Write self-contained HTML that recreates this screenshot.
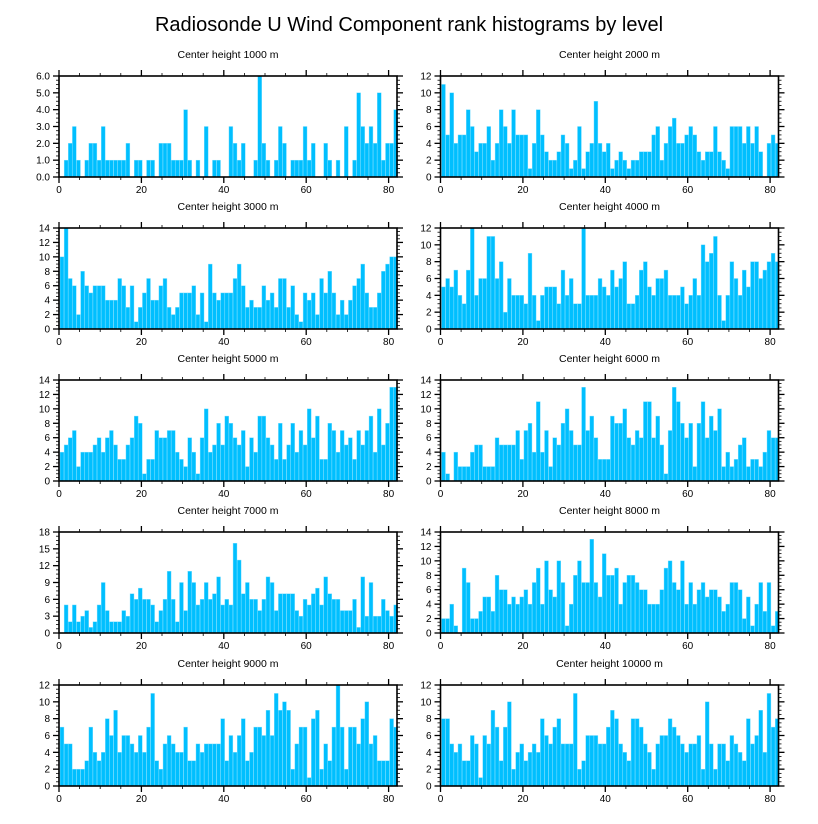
<!DOCTYPE html>
<html><head><meta charset="utf-8"><style>
html,body{margin:0;padding:0;background:#fff;}
svg{display:block;font-family:"Liberation Sans",Arial,sans-serif;}
</style></head><body>
<svg id="chart" width="818" height="824" viewBox="0 0 818 824" xmlns="http://www.w3.org/2000/svg">
<text x="409" y="31" font-size="20" text-anchor="middle" fill="#000">Radiosonde U Wind Component rank histograms by level</text>
</svg>
<script>
const panelTitles = ["Center height 1000 m","Center height 2000 m","Center height 3000 m","Center height 4000 m","Center height 5000 m","Center height 6000 m","Center height 7000 m","Center height 8000 m","Center height 9000 m","Center height 10000 m"];
const yMaxes = [6,12,14,12,14,14,18,14,12,12];
const yTickSteps = [1,2,2,2,2,2,3,2,2,2];
const yLabelDecimals = [1,0,0,0,0,0,0,0,0,0];
const xTickValues = [0,20,40,60,80];
const h1000 = [0,1,2,3,1,0,1,2,2,1,3,1,1,1,1,1,2,0,1,1,0,1,1,0,2,2,2,1,1,1,4,1,0,1,0,3,0,1,1,0,0,3,2,1,2,0,0,1,6,2,1,0,1,3,2,0,1,1,1,3,1,2,0,0,2,1,0,1,0,3,0,1,5,3,2,3,2,5,1,2,2,4];
const h2000 = [11,5,10,4,5,5,8,6,3,4,4,6,2,4,8,6,4,8,5,5,5,1,4,8,5,3,2,2,3,5,4,1,2,6,1,3,4,9,4,3,4,1,2,3,2,1,2,2,3,3,3,5,6,2,4,6,7,4,4,5,6,5,3,2,3,3,6,3,2,1,6,6,6,4,6,4,6,3,0,4,5,4];
const h3000 = [10,14,7,6,2,8,6,5,6,6,6,4,4,4,7,6,3,6,1,3,5,7,4,4,6,7,3,2,3,5,5,5,6,2,5,1,9,5,4,5,5,5,7,9,6,3,4,3,3,6,4,5,3,7,7,3,6,2,1,5,4,5,2,7,5,8,5,2,4,2,4,6,7,9,5,3,3,5,8,9,10,10];
const h4000 = [5,6,5,7,4,3,7,12,4,6,6,11,11,6,8,2,6,4,4,4,3,9,4,1,4,5,5,5,3,7,4,6,3,3,12,4,4,4,6,5,4,7,5,6,8,3,3,4,7,8,5,4,6,6,7,4,4,4,5,3,4,6,4,10,8,9,11,4,1,4,8,6,4,7,5,8,8,6,7,8,9,8];
const h5000 = [4,5,6,7,2,4,4,4,5,6,4,6,7,5,3,3,5,6,9,8,1,3,3,7,6,6,7,7,4,3,2,6,4,1,6,10,4,5,8,5,9,8,6,5,7,2,6,4,9,9,6,5,3,8,3,5,8,4,7,5,10,6,9,3,3,8,7,4,7,5,6,3,7,5,7,9,4,10,5,8,13,13];
const h6000 = [4,1,0,4,2,2,2,4,5,5,2,2,2,6,5,5,5,5,7,3,7,8,4,11,4,7,2,6,5,8,10,7,5,5,13,7,9,6,3,3,3,9,8,8,10,6,5,7,6,11,11,6,9,5,1,7,13,11,8,6,8,2,8,11,6,9,7,10,2,4,2,3,5,6,2,3,3,2,4,7,6,6];
const h7000 = [0,5,2,5,2,3,4,1,2,5,9,4,2,2,2,4,3,7,6,8,6,6,5,2,4,6,11,6,2,9,4,11,9,5,6,9,6,7,10,5,6,5,16,13,7,9,6,6,4,6,10,9,4,7,7,7,7,4,3,6,5,7,8,5,10,7,6,6,4,4,4,6,1,10,3,9,3,3,6,4,3,5];
const h8000 = [2,2,4,1,0,9,7,2,2,3,5,5,3,8,6,6,4,5,4,5,6,4,7,9,4,10,6,5,10,7,1,4,8,10,7,7,13,7,5,11,8,8,9,4,7,8,8,7,6,6,4,4,4,6,9,10,7,6,10,4,7,4,6,7,5,6,6,5,3,4,7,7,6,2,5,1,4,7,3,7,1,3];
const h9000 = [7,5,5,2,2,2,3,7,4,3,4,8,6,9,4,6,6,5,4,6,4,7,11,3,2,5,6,5,4,4,7,3,3,5,4,5,5,5,5,8,3,6,4,6,8,3,4,7,7,6,9,6,11,9,10,9,2,5,7,7,1,8,9,2,5,3,7,12,7,2,7,7,5,8,10,5,6,3,3,3,8,7];
const h10000 = [8,8,5,4,5,3,3,6,5,1,6,5,9,7,3,7,10,2,4,5,3,4,5,4,8,6,5,7,8,5,5,5,11,2,3,6,6,6,5,5,7,9,8,5,4,3,8,8,7,5,4,2,5,6,6,8,7,6,5,4,5,5,6,2,10,5,2,5,5,3,6,5,4,3,8,5,6,9,4,11,7,8];

const series = [h1000,h2000,h3000,h4000,h5000,h6000,h7000,h8000,h9000,h10000];
const NS = "http://www.w3.org/2000/svg";
const svg = document.getElementById('chart');
const colLeft = [59, 440.5];
const rowTop = [76, 228, 380, 532, 685];
const plotW = 338, plotH = 101, xMax = 338/4.12;
function mk(tag, attrs, parent){const e=document.createElementNS(NS,tag);for(const k in attrs)e.setAttribute(k,attrs[k]);parent.appendChild(e);return e;}

series.forEach((vals, p) => {
  const x0 = colLeft[p%2], y0 = rowTop[Math.floor(p/2)];
  const ymax = yMaxes[p];
  const xs = u => x0 + u/xMax*plotW;
  const ys = v => y0 + plotH - v/ymax*plotH;
  const g = mk('g', {}, svg);
  
  
  const t = mk('text', {x: x0+plotW/2, y: y0-18, 'font-size': 10.5, 'text-anchor':'middle', fill:'#000'}, g);
  t.textContent = panelTitles[p];
  
  
  vals.forEach((v, i) => {
    if (v <= 0) return;
    const r = mk('rect', {x: xs(i+0.25), y: ys(v), width: xs(i+1.2)-xs(i+0.25), height: ys(0)-ys(v), fill:'#00bfff', stroke:'#7fdfff', 'stroke-width':0.4}, g);
    
    
  });
  const frame = mk('rect', {x:x0, y:y0, width:plotW, height:plotH, fill:'none', stroke:'#000', 'stroke-width':1.6}, g);
  
  
  // x ticks
  for (let u=0; u<=xMax; u+=5) {
    const major = u%20===0, L = major?6:3;
    const X = xs(u);
    mk('line',{x1:X,x2:X,y1:y0+plotH,y2:y0+plotH+L,stroke:'#000','stroke-width':major?1.3:0.8},g);
    mk('line',{x1:X,x2:X,y1:y0,y2:y0-L,stroke:'#000','stroke-width':major?1.3:0.8},g);
  }
  xTickValues.forEach(u => {
    const lab = mk('text',{x:xs(u), y:y0+plotH+16, 'font-size':10, 'text-anchor':'middle', fill:'#000'}, g);
    lab.textContent = String(u);
    
    
  });
  // y ticks
  const step = yTickSteps[p];
  for (let v=0; v<=ymax+1e-9; v+=step/4) {
    const major = Math.abs(v/step - Math.round(v/step))<1e-6, L = major?6:3;
    const Y = ys(v);
    mk('line',{x1:x0,x2:x0-L,y1:Y,y2:Y,stroke:'#000','stroke-width':major?1.3:0.8},g);
    mk('line',{x1:x0+plotW,x2:x0+plotW+L,y1:Y,y2:Y,stroke:'#000','stroke-width':major?1.3:0.8},g);
  }
  for (let v=0; v<=ymax+1e-9; v+=step) {
    const lab = mk('text',{x:x0-9, y:ys(v)+3.5, 'font-size':10, 'text-anchor':'end', fill:'#000'}, g);
    lab.textContent = v.toFixed(yLabelDecimals[p]);
    
    
  }
});
</script>
</body></html>
